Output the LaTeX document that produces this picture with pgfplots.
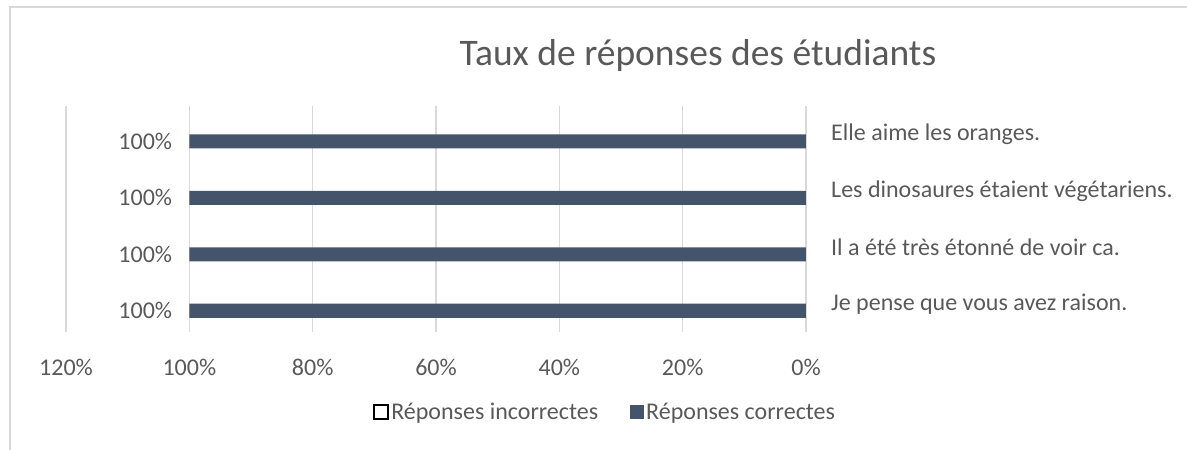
\documentclass[border=0pt]{standalone}
\usepackage{fontspec}
\setmainfont{Carlito}
\usepackage{pgfplots}
\pgfplotsset{compat=1.18}
\definecolor{barc}{HTML}{44546A}
\definecolor{txt}{HTML}{595959}
\definecolor{gridc}{HTML}{D9D9D9}
\begin{document}
\begin{tikzpicture}[x=1pt,y=1pt]
\useasboundingbox (0,0) rectangle (1187,450);
\draw[gridc, line width=1.5pt] (10,-5) -- (10,443) -- (1195,443);
\node[txt, font=\fontsize{37.5}{44}\selectfont, anchor=base] at (698,384) {Taux de réponses des étudiants};
\begin{axis}[
  at={(66pt,118pt)}, anchor=south west,
  scale only axis, width=740pt, height=226pt,
  xbar, x dir=reverse,
  bar width=0.25,
  xmin=0, xmax=120, ymin=-0.5, ymax=3.5,
  xtick={0,20,...,120},
  xticklabel={\pgfmathprintnumber{\tick}\%},
  /pgf/number format/assume math mode=true,
  ytick={0,1,2,3},
  yticklabels={Je pense que vous avez raison., Il a été très étonné de voir ca., Les dinosaures étaient végétariens., Elle aime les oranges.},
  yticklabel pos=right,
  yticklabel style={anchor=west, inner sep=0pt, xshift=25pt},
  xticklabel style={anchor=north, inner sep=0pt, yshift=-27pt},
  tick label style={font=\fontsize{24}{28}\selectfont, text=txt},
  major tick length=0pt,
  tick style={draw=none},
  axis line style={draw=none},
  xmajorgrids,
  major grid style={gridc, line width=1.3pt},
  legend style={at={(0.7287,-0.354)}, anchor=center, draw=none, fill=none,
    legend columns=2, font=\fontsize{24}{28}\selectfont, text=txt,
    /tikz/every even column/.append style={column sep=30pt}},
]
\addplot[xbar, bar shift=0.125, draw=none, fill=none,
  legend image code/.code={\draw[black, fill=white, line width=1.8pt] (-2pt,-7pt) rectangle (12pt,7pt);}]
  coordinates {(0,0) (0,1) (0,2) (0,3)};
\addlegendentry{Réponses incorrectes}
\addplot[xbar, bar shift=-0.125, draw=none, fill=barc,
  point meta=x,
  nodes near coords={\pgfmathprintnumber{\pgfplotspointmeta}\%},
  every node near coord/.append style={anchor=east, inner sep=0pt, xshift=-17pt, font=\fontsize{24}{28}\selectfont, text=txt},
  legend image code/.code={\fill[barc] (-1pt,-7pt) rectangle (13pt,7pt);}]
  coordinates {(100,0) (100,1) (100,2) (100,3)};
\addlegendentry{Réponses correctes}
\end{axis}
\end{tikzpicture}
\end{document}
